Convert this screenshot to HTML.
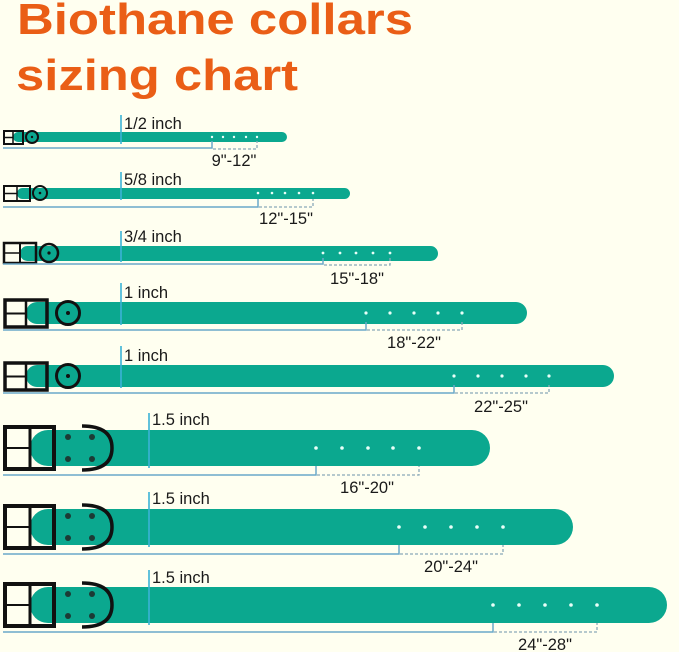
<!DOCTYPE html>
<html><head><meta charset="utf-8"><style>
html,body{margin:0;padding:0;background:#fffff0;}
svg{display:block}
text{font-family:"Liberation Sans","DejaVu Sans",sans-serif;fill:#1a1a1a}
.t{fill:#ea5e16;font-weight:bold;font-size:44px}
.l{font-size:16.5px}
.strap{fill:#0ba88f}
.br{stroke:#6aa9c9;stroke-width:1.5;fill:none}
.ds{stroke:#8aa9b8;stroke-width:1.3;fill:none;stroke-dasharray:3,2}
.bl{stroke:#3bb3d6;stroke-width:1.6}
.h{fill:#e8fff8}
.bk{fill:none;stroke:#111;}
.dot{fill:#1c3b35}
</style></head><body>
<svg width="679" height="652" viewBox="0 0 679 652" xmlns="http://www.w3.org/2000/svg">
<rect width="679" height="652" fill="#fffff0"/>
<text class="t" x="17" y="34" textLength="396" lengthAdjust="spacingAndGlyphs">Biothane collars</text>
<text class="t" x="16" y="90" textLength="282" lengthAdjust="spacingAndGlyphs">sizing chart</text>

<!-- collar 1 -->
<rect class="strap" x="13" y="132" width="274" height="10" rx="5"/>
<rect class="bk" x="4" y="131" width="19" height="13" stroke-width="2"/><line x1="4" y1="137.5" x2="13" y2="137.5" stroke="#111" stroke-width="1.5"/><line x1="13" y1="131" x2="13" y2="144" stroke="#111" stroke-width="1.5"/>
<circle cx="32" cy="137" r="6" class="bk" stroke-width="2"/><circle cx="32" cy="137" r="1.2" fill="#111"/>
<line class="bl" x1="121" y1="115" x2="121" y2="144"/><text class="l" x="124" y="129">1/2 inch</text>
<g class="h"><circle cx="212" cy="137" r="1.2"/><circle cx="223" cy="137" r="1.2"/><circle cx="234" cy="137" r="1.2"/><circle cx="246" cy="137" r="1.2"/><circle cx="257" cy="137" r="1.2"/></g>
<path class="br" d="M3 148 H212 V141"/><path class="ds" d="M213 149 H257 V141"/>
<text class="l" x="234" y="166" text-anchor="middle">9"-12"</text>

<!-- collar 2 -->
<rect class="strap" x="17" y="188" width="333" height="11" rx="5.5"/>
<rect class="bk" x="4" y="186" width="26" height="15" stroke-width="2"/><line x1="4" y1="193.5" x2="17" y2="193.5" stroke="#111" stroke-width="1.5"/><line x1="17" y1="186" x2="17" y2="201" stroke="#111" stroke-width="1.5"/>
<circle cx="40" cy="193" r="7" class="bk" stroke-width="2"/><circle cx="40" cy="193" r="1.3" fill="#111"/>
<line class="bl" x1="121" y1="172" x2="121" y2="200"/><text class="l" x="124" y="185">5/8 inch</text>
<g class="h"><circle cx="258" cy="193" r="1.3"/><circle cx="272" cy="193" r="1.3"/><circle cx="285" cy="193" r="1.3"/><circle cx="299" cy="193" r="1.3"/><circle cx="313" cy="193" r="1.3"/></g>
<path class="br" d="M3 207 H258 V199"/><path class="ds" d="M259 207 H313 V199"/>
<text class="l" x="286" y="224" text-anchor="middle">12"-15"</text>

<!-- collar 3 -->
<rect class="strap" x="20" y="246" width="418" height="15" rx="7.5"/>
<rect class="bk" x="4" y="243" width="32" height="20" stroke-width="2.5"/><line x1="4" y1="253" x2="20" y2="253" stroke="#111" stroke-width="1.5"/><line x1="20" y1="243" x2="20" y2="263" stroke="#111" stroke-width="2"/>
<circle cx="49" cy="253" r="9" class="bk" stroke-width="2.5"/><circle cx="49" cy="253" r="1.6" fill="#111"/>
<line class="bl" x1="121" y1="231" x2="121" y2="262"/><text class="l" x="124" y="242">3/4 inch</text>
<g class="h"><circle cx="323" cy="253" r="1.4"/><circle cx="340" cy="253" r="1.4"/><circle cx="356" cy="253" r="1.4"/><circle cx="373" cy="253" r="1.4"/><circle cx="390" cy="253" r="1.4"/></g>
<path class="br" d="M3 264 H323 V258"/><path class="ds" d="M324 265 H390 V258"/>
<text class="l" x="357" y="284" text-anchor="middle">15"-18"</text>

<!-- collar 4 -->
<rect class="strap" x="26" y="302" width="501" height="22" rx="11"/>
<rect class="bk" x="5" y="300" width="42" height="27" stroke-width="3.5"/><line x1="5" y1="313.5" x2="26" y2="313.5" stroke="#111" stroke-width="2"/><line x1="26" y1="300" x2="26" y2="327" stroke="#111" stroke-width="2.5"/>
<circle cx="68" cy="313" r="11.5" class="bk" stroke-width="3"/><circle cx="68" cy="313" r="2" fill="#111"/>
<line class="bl" x1="121" y1="283" x2="121" y2="325"/><text class="l" x="124" y="298">1 inch</text>
<g class="h"><circle cx="366" cy="313" r="1.6"/><circle cx="390" cy="313" r="1.6"/><circle cx="414" cy="313" r="1.6"/><circle cx="438" cy="313" r="1.6"/><circle cx="462" cy="313" r="1.6"/></g>
<path class="br" d="M3 330 H366 V322"/><path class="ds" d="M367 330 H462 V322"/>
<text class="l" x="414" y="348" text-anchor="middle">18"-22"</text>

<!-- collar 5 -->
<rect class="strap" x="26" y="365" width="588" height="22" rx="11"/>
<rect class="bk" x="5" y="363" width="42" height="27" stroke-width="3.5"/><line x1="5" y1="376.5" x2="26" y2="376.5" stroke="#111" stroke-width="2"/><line x1="26" y1="363" x2="26" y2="390" stroke="#111" stroke-width="2.5"/>
<circle cx="68" cy="376" r="11.5" class="bk" stroke-width="3"/><circle cx="68" cy="376" r="2" fill="#111"/>
<line class="bl" x1="121" y1="346" x2="121" y2="388"/><text class="l" x="124" y="361">1 inch</text>
<g class="h"><circle cx="454" cy="376" r="1.6"/><circle cx="478" cy="376" r="1.6"/><circle cx="502" cy="376" r="1.6"/><circle cx="526" cy="376" r="1.6"/><circle cx="549" cy="376" r="1.6"/></g>
<path class="br" d="M3 393 H454 V385"/><path class="ds" d="M455 393 H549 V385"/>
<text class="l" x="501" y="412" text-anchor="middle">22"-25"</text>

<!-- large collars -->
<rect class="strap" x="30" y="430" width="460" height="36" rx="18"/>
<rect class="bk" x="5" y="427" width="49" height="42" stroke-width="4"/><line x1="5" y1="448" x2="30" y2="448" stroke="#111" stroke-width="2"/><line x1="30" y1="427" x2="30" y2="469" stroke="#111" stroke-width="3"/>
<circle class="dot" cx="68" cy="437" r="3"/><circle class="dot" cx="92" cy="437" r="3"/><circle class="dot" cx="68" cy="459" r="3"/><circle class="dot" cx="92" cy="459" r="3"/>
<path d="M82 426 Q112 426 112 448 Q112 470 82 470" class="bk" stroke-width="3.5"/>
<line class="bl" x1="149" y1="413" x2="149" y2="468"/><text class="l" x="152" y="425">1.5 inch</text>
<g class="h"><circle cx="316" cy="448" r="1.8"/><circle cx="342" cy="448" r="1.8"/><circle cx="368" cy="448" r="1.8"/><circle cx="393" cy="448" r="1.8"/><circle cx="419" cy="448" r="1.8"/></g>
<path class="br" d="M3 475 H316 V466"/><path class="ds" d="M317 475 H419 V466"/>
<text class="l" x="367" y="493" text-anchor="middle">16"-20"</text>

<rect class="strap" x="30" y="509" width="543" height="36" rx="18"/>
<rect class="bk" x="5" y="506" width="49" height="42" stroke-width="4"/><line x1="5" y1="527" x2="30" y2="527" stroke="#111" stroke-width="2"/><line x1="30" y1="506" x2="30" y2="548" stroke="#111" stroke-width="3"/>
<circle class="dot" cx="68" cy="516" r="3"/><circle class="dot" cx="92" cy="516" r="3"/><circle class="dot" cx="68" cy="538" r="3"/><circle class="dot" cx="92" cy="538" r="3"/>
<path d="M82 505 Q112 505 112 527 Q112 549 82 549" class="bk" stroke-width="3.5"/>
<line class="bl" x1="149" y1="492" x2="149" y2="547"/><text class="l" x="152" y="504">1.5 inch</text>
<g class="h"><circle cx="399" cy="527" r="1.8"/><circle cx="425" cy="527" r="1.8"/><circle cx="451" cy="527" r="1.8"/><circle cx="477" cy="527" r="1.8"/><circle cx="503" cy="527" r="1.8"/></g>
<path class="br" d="M3 554 H399 V545"/><path class="ds" d="M400 554 H503 V545"/>
<text class="l" x="451" y="572" text-anchor="middle">20"-24"</text>

<rect class="strap" x="30" y="587" width="637" height="36" rx="18"/>
<rect class="bk" x="5" y="584" width="49" height="42" stroke-width="4"/><line x1="5" y1="605" x2="30" y2="605" stroke="#111" stroke-width="2"/><line x1="30" y1="584" x2="30" y2="626" stroke="#111" stroke-width="3"/>
<circle class="dot" cx="68" cy="594" r="3"/><circle class="dot" cx="92" cy="594" r="3"/><circle class="dot" cx="68" cy="616" r="3"/><circle class="dot" cx="92" cy="616" r="3"/>
<path d="M82 583 Q112 583 112 605 Q112 627 82 627" class="bk" stroke-width="3.5"/>
<line class="bl" x1="149" y1="570" x2="149" y2="625"/><text class="l" x="152" y="583">1.5 inch</text>
<g class="h"><circle cx="493" cy="605" r="1.8"/><circle cx="519" cy="605" r="1.8"/><circle cx="545" cy="605" r="1.8"/><circle cx="571" cy="605" r="1.8"/><circle cx="597" cy="605" r="1.8"/></g>
<path class="br" d="M3 632 H493 V623"/><path class="ds" d="M494 632 H597 V623"/>
<text class="l" x="545" y="650" text-anchor="middle">24"-28"</text>
</svg>
</body></html>
